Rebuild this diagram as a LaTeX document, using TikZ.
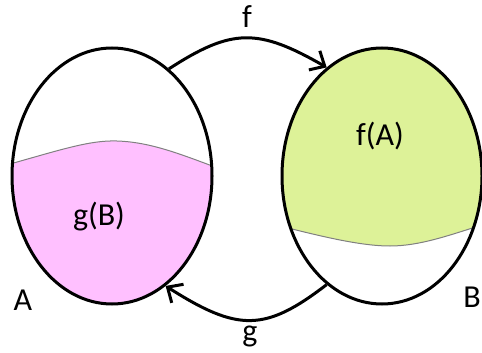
\documentclass[tikz,border=0pt]{standalone}
\usepackage{fontspec}
\setmainfont{Carlito}
\usetikzlibrary{shapes.geometric,arrows.meta}
\definecolor{gbfill}{RGB}{255,192,255}
\definecolor{fafill}{RGB}{221,242,152}
\tikzset{
  set/.style={draw,ellipse,line width=3pt,minimum width=200pt,minimum height=256pt,inner sep=0pt},
  lbl/.style={font=\fontsize{32}{38}\selectfont,inner sep=0pt}
}
\begin{document}
\begin{tikzpicture}[x=1pt,y=-1pt,->,>={Straight Barb[length=12pt,width=22pt]},line width=3pt]
    \useasboundingbox (0,0) rectangle (482,353);

    % shaded parts
    \begin{scope}
      \clip (112,176) ellipse [x radius=100pt,y radius=128pt];
      \fill[gbfill] (10,164) .. controls (60,150) and (90,140) .. (117,141)
        .. controls (150,142) and (180,154) .. (215,167) -- (215,310) -- (10,310) -- cycle;
      \draw[-,gray,line width=1pt] (10,164) .. controls (60,150) and (90,140) .. (117,141)
        .. controls (150,142) and (180,154) .. (215,167);
    \end{scope}
    \begin{scope}
      \clip (382,176) ellipse [x radius=100pt,y radius=128pt];
      \fill[fafill] (280,226) .. controls (320,236) and (360,246) .. (390,246)
        .. controls (420,246) and (450,235) .. (485,224) -- (485,40) -- (280,40) -- cycle;
      \draw[-,gray,line width=1pt] (280,226) .. controls (320,236) and (360,246) .. (390,246)
        .. controls (420,246) and (450,235) .. (485,224);
    \end{scope}

    \node[set] (setA) at (112,176) {};
    \node[set] (setB) at (382,176) {};

    \node[lbl] (gB) at (99,217) {g(B)};
    \node[lbl] (fA) at (380,136) {f(A)};
    \node[lbl] (nameA) at (23,300) {A};
    \node[lbl] (nameB) at (472,297) {B};
    \node[lbl] (fname) at (247,17) {f};
    \node[lbl] (gname) at (250,336) {g};

    \draw (setA.62) .. controls (232,28) and (258,28) .. (setB.117);
    \draw (setB.243) .. controls (265,332) and (238,332) .. (setA.296);
  \end{tikzpicture}
\end{document}
